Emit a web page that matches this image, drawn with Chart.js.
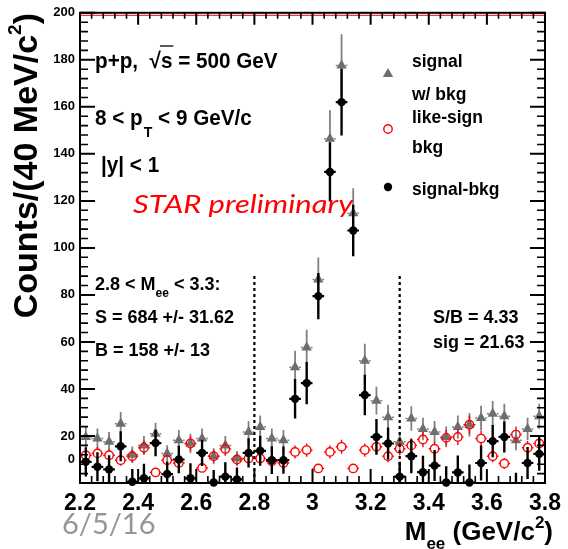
<!DOCTYPE html>
<html><head><meta charset="utf-8">
<script src="https://cdn.jsdelivr.net/npm/chart.js@4/dist/chart.umd.min.js"></script>
<style>html,body{margin:0;padding:0;background:#fff;overflow:hidden}#wrap{width:568px;height:549px;position:relative}</style>
</head><body><div id="wrap"><canvas id="c" width="568" height="549"></canvas></div>
<script>
// ---- data ----
const binCenters = [2.22,2.26,2.30,2.34,2.38,2.42,2.46,2.50,2.54,2.58,2.62,2.66,2.70,2.74,2.78,2.82,2.86,2.90,2.94,2.98,
                    3.02,3.06,3.10,3.14,3.18,3.22,3.26,3.30,3.34,3.38,3.42,3.46,3.50,3.54,3.58,3.62,3.66,3.70,3.74,3.78];
const binHalfWidth = 0.02;
const signalWithBkg = [19.6,18.9,17.5,25.2,12.0,16.0,21.0,12.6,18.2,16.8,18.9,11.4,16.0,10.4,21.7,23.8,18.9,18.2,49.2,57.6,
                       86.6,146.4,177.6,114.7,52.0,35.0,28.0,17.5,27.4,23.0,21.7,19.6,23.8,24.8,27.6,29.5,28.4,18.2,23.0,28.4];
const signalWithBkgErr = [4.4,4.3,4.2,5.0,3.5,4.0,4.6,3.5,4.3,4.1,4.3,3.4,4.0,3.2,4.7,4.9,4.3,4.3,7.0,7.6,
                          9.3,12.1,13.3,10.7,7.2,5.9,5.3,4.2,5.2,4.8,4.7,4.4,4.9,5.0,5.3,5.4,5.3,4.3,4.8,5.3];
const likeSignBkg = [11.8,12.6,11.8,9.7,11.4,15.0,4.5,9.7,8.5,16.8,6.4,11.4,14.5,10.0,10.4,10.4,9.2,8.5,13.2,14.0,
                     6.2,13.2,15.4,6.2,14.0,15.4,11.4,14.6,16.0,18.5,14.6,19.2,19.6,24.8,18.9,11.4,8.3,20.6,15.0,16.8];
const likeSignBkgErr = [2.6,2.7,2.6,2.4,2.6,2.9,1.6,2.4,2.2,3.1,1.9,2.6,2.9,2.4,2.4,2.4,2.3,2.2,2.8,2.8,
                        1.9,2.8,3.0,1.9,2.8,3.0,2.6,2.9,3.0,3.3,2.9,3.3,3.4,3.8,3.3,2.6,2.2,3.4,2.9,3.1];
const signalMinusBkg = [9.0,6.9,5.8,15.6,0.5,2.0,17.0,3.8,10.0,2.0,12.8,0.2,2.7,1.5,12.8,13.7,9.7,9.7,35.8,42.5,
                        79.5,132.3,162.0,107.4,37.4,19.6,16.8,2.7,11.4,4.6,7.4,0.2,4.5,0.2,8.5,17.8,19.6,-2.4,8.5,12.4];
const signalMinusBkgErr = [6.2,6.2,6.0,6.4,5.5,6.2,5.6,5.3,5.8,6.4,5.6,5.3,6.1,5.1,6.2,6.4,5.9,5.8,8.4,9.0,
                           9.8,12.6,14.2,11.0,8.6,7.6,6.8,6.3,7.2,7.0,6.6,6.9,7.2,7.7,7.4,6.9,6.6,6.8,6.8,7.2];
const xTickValues = [2.2,2.4,2.6,2.8,3.0,3.2,3.4,3.6,3.8];
const yTickValues = [0,20,40,60,80,100,120,140,160,180,200];
const massWindow = [2.8, 3.3];
const windowLineTop = 88;
const legendLabels = [["signal","w/ bkg"],["like-sign","bkg"],["signal-bkg"]];

// ---- styling ----
const SANS = '"Liberation Sans", Arial, Helvetica, sans-serif';
const GRAY = '#6e6e6e';
const RED = '#ff0000';

const mk = ys => binCenters.map((x, i) => ({x, y: ys[i]}));

function drawTri(ctx, x, y, r, color) {
  ctx.beginPath();
  let rad = 0;
  ctx.moveTo(x + Math.sin(rad) * r, y - Math.cos(rad) * r);
  rad += 2 * Math.PI / 3;
  ctx.lineTo(x + Math.sin(rad) * r, y - Math.cos(rad) * r);
  rad += 2 * Math.PI / 3;
  ctx.lineTo(x + Math.sin(rad) * r, y - Math.cos(rad) * r);
  ctx.closePath();
  ctx.fillStyle = color; ctx.fill();
}

const errorBars = {
  id: 'errorBars',
  beforeDatasetDraw(chart, args) {
    const ds = chart.data.datasets[args.index];
    const {ctx, chartArea: a, scales: {x: xs, y: ys}} = chart;
    ctx.save();
    ctx.beginPath(); ctx.rect(a.left, a.top, a.right - a.left, a.bottom - a.top); ctx.clip();
    ctx.strokeStyle = ds.errColor; ctx.lineWidth = ds.errWidth;
    ds.data.forEach((p, i) => {
      const e = ds.errors[i];
      const px = xs.getPixelForValue(p.x), py = ys.getPixelForValue(p.y);
      const top = ys.getPixelForValue(p.y + e), bot = ys.getPixelForValue(p.y - e);
      const g = ds.errGap;
      ctx.setLineDash([]);
      ctx.beginPath();
      ctx.moveTo(px, top); ctx.lineTo(px, py - g);
      ctx.moveTo(px, py + g); ctx.lineTo(px, bot);
      ctx.stroke();
      const xl = xs.getPixelForValue(p.x - binHalfWidth), xr = xs.getPixelForValue(p.x + binHalfWidth);
      ctx.lineWidth = ds.xErrWidth;
      if (ds.xDash) ctx.setLineDash(ds.xDash);
      ctx.beginPath();
      ctx.moveTo(xl, py); ctx.lineTo(px - g, py);
      ctx.moveTo(px + g, py); ctx.lineTo(xr, py);
      ctx.stroke();
      ctx.lineWidth = ds.errWidth;
    });
    ctx.restore();
  }
};

function txt(ctx, s, x, y, size, o = {}) {
  ctx.save();
  ctx.font = `${o.italic ? 'italic ' : ''}${o.bold === false ? '' : 'bold '}${size}px ${o.family || SANS}`;
  ctx.fillStyle = o.color || '#000';
  ctx.textBaseline = 'alphabetic'; ctx.textAlign = 'left';
  let sx = o.sx || 1;
  const w0 = ctx.measureText(s).width;
  if (o.w) sx = o.w / w0;
  ctx.translate(x, y); ctx.scale(sx, 1);
  ctx.fillText(s, 0, 0);
  ctx.restore();
  return x + w0 * sx;
}

const frame = {
  id: 'frame',
  afterDatasetsDraw(chart) {
    const {ctx, chartArea: a, scales: {x: xs, y: ys}} = chart;
    ctx.save();
    // mass window lines
    ctx.strokeStyle = '#000'; ctx.lineWidth = 2.2; ctx.setLineDash([3, 3]);
    massWindow.forEach(v => {
      const px = xs.getPixelForValue(v);
      ctx.beginPath(); ctx.moveTo(px, ys.getPixelForValue(0)); ctx.lineTo(px, ys.getPixelForValue(windowLineTop)); ctx.stroke();
    });
    ctx.setLineDash([]);
    // thin red line along the top
    ctx.strokeStyle = RED; ctx.lineWidth = 1;
    ctx.beginPath(); ctx.moveTo(a.left, a.top + 2.5); ctx.lineTo(a.right, a.top + 2.5); ctx.stroke();
    // frame
    ctx.strokeStyle = '#000'; ctx.lineWidth = 2;
    ctx.strokeRect(a.left, a.top, a.right - a.left, a.bottom - a.top);
    // x ticks
    const xmin = xs.min, xmax = xs.max;
    for (let k = 0; k <= 40; k++) {
      const px = xs.getPixelForValue(xmin + k * (xmax - xmin) / 40);
      const major = k % 5 === 0;
      ctx.lineWidth = major ? 2 : 1.6;
      ctx.beginPath();
      ctx.moveTo(px, a.bottom); ctx.lineTo(px, a.bottom - (major ? 14 : 7));
      ctx.moveTo(px, a.top); ctx.lineTo(px, a.top + (major ? 12 : 6));
      ctx.stroke();
    }
    for (let k = 0; k <= 50; k++) {
      const py = ys.getPixelForValue(ys.min + k * (ys.max - ys.min) / 50);
      const major = k % 5 === 0;
      const l = major ? 15 : 8;
      ctx.lineWidth = major ? 2 : 1.6;
      ctx.beginPath();
      ctx.moveTo(a.left, py); ctx.lineTo(a.left + l, py);
      ctx.moveTo(a.right, py); ctx.lineTo(a.right - l, py);
      ctx.stroke();
    }
    ctx.restore();
  },
  afterDraw(chart) {
    const {ctx} = chart;
    ctx.save();
    // "0" label shifted up as in the original
    ctx.font = `bold 13px ${SANS}`; ctx.fillStyle = '#000'; ctx.textAlign = 'right'; ctx.textBaseline = 'middle';
    ctx.fillText('0', 75, 459);
    // y title
    ctx.save();
    ctx.translate(37, 0); ctx.rotate(-Math.PI / 2);
    ctx.font = `bold 34px ${SANS}`;
    const p1 = 'Counts/(40 MeV/c', p3 = ')';
    const w1 = ctx.measureText(p1).width, w3 = ctx.measureText(p3).width;
    ctx.font = `bold 19px ${SANS}`;
    const w2 = ctx.measureText('2').width;
    let sx0 = -(13 + w1 + w2 + w3);
    ctx.textAlign = 'left'; ctx.textBaseline = 'alphabetic'; ctx.fillStyle = '#000';
    ctx.font = `bold 34px ${SANS}`; ctx.fillText(p1, sx0, 0);
    ctx.font = `bold 19px ${SANS}`; ctx.fillText('2', sx0 + w1, -16);
    ctx.font = `bold 34px ${SANS}`; ctx.fillText(p3, sx0 + w1 + w2, 0);
    ctx.restore();
    // x title
    ctx.textAlign = 'left'; ctx.textBaseline = 'alphabetic';
    ctx.font = `bold 26px ${SANS}`;
    const wm = ctx.measureText('M').width, wg = ctx.measureText(' (GeV/c').width, wp = ctx.measureText(')').width;
    ctx.font = `bold 17px ${SANS}`;
    const we = ctx.measureText('ee').width, w2x = ctx.measureText('2').width;
    let xx = 553 - (wm + we + wg + w2x + wp);
    ctx.font = `bold 26px ${SANS}`; ctx.fillText('M', xx, 540); xx += wm;
    ctx.font = `bold 17px ${SANS}`; ctx.fillText('ee', xx, 549); xx += we;
    ctx.font = `bold 26px ${SANS}`; ctx.fillText(' (GeV/c', xx, 540); xx += wg;
    ctx.font = `bold 17px ${SANS}`; ctx.fillText('2', xx, 528); xx += w2x;
    ctx.font = `bold 26px ${SANS}`; ctx.fillText(')', xx, 540);
    // date footer
    txt(ctx, '6/5/16', 62, 534, 29, {bold: false, family: 'Lato, "Open Sans", sans-serif', color: '#969696'});

    // annotations
    let x = txt(ctx, 'p+p,  ', 95, 68, 22, {sx: 0.94});
    const xr = txt(ctx, '\u221A', x, 68, 22, {sx: 0.94});
    const xs2 = txt(ctx, 's', xr, 68, 22, {sx: 0.94});
    ctx.strokeStyle = '#000'; ctx.lineWidth = 1.3;
    ctx.beginPath(); ctx.moveTo(xr - 1, 46); ctx.lineTo(xs2 + 1, 46); ctx.stroke();
    txt(ctx, ' = 500 GeV', xs2, 68, 22, {sx: 0.94});

    x = txt(ctx, '8 < p', 95, 125, 22, {sx: 0.94});
    x = txt(ctx, 'T', x + 1, 137, 15, {sx: 0.94});
    txt(ctx, ' < 9 GeV/c', x, 125, 22, {sx: 0.94});

    txt(ctx, '|y| < 1', 101, 172, 22, {sx: 0.94});

    txt(ctx, 'STAR preliminary', 133, 213, 25, {bold: false, italic: true, family: 'Lato, "Open Sans", sans-serif', color: RED, w: 220});

    x = txt(ctx, '2.8 < M', 95, 290, 18);
    x = txt(ctx, 'ee', x, 297, 12);
    txt(ctx, ' < 3.3:', x, 290, 18);
    txt(ctx, 'S = 684 +/- 31.62', 95, 323, 18);
    txt(ctx, 'B = 158 +/- 13', 95, 356, 18);

    txt(ctx, 'S/B = 4.33', 433, 323, 18);
    txt(ctx, 'sig = 21.63', 433, 348, 18);

    // legend
    drawTri(ctx, 388, 74, 6, GRAY);
    ctx.beginPath(); ctx.arc(388, 129, 4.2, 0, 2 * Math.PI); ctx.strokeStyle = RED; ctx.lineWidth = 1.4; ctx.stroke();
    ctx.beginPath(); ctx.arc(388, 187, 4.2, 0, 2 * Math.PI); ctx.fillStyle = '#000'; ctx.fill();
    txt(ctx, legendLabels[0][0], 412, 67, 17.5);
    txt(ctx, legendLabels[0][1], 412, 100, 17.5);
    txt(ctx, legendLabels[1][0], 412, 123, 17.5);
    txt(ctx, legendLabels[1][1], 412, 153, 17.5);
    txt(ctx, legendLabels[2][0], 412, 195, 17.5);
    ctx.restore();
  }
};

new Chart(document.getElementById('c'), {
  type: 'scatter',
  data: {
    datasets: [
      {label: 'signal-bkg', data: mk(signalMinusBkg), order: 0, clip: false,
       pointStyle: 'circle', pointRadius: c => (c.raw && c.raw.y < 0 ? 0 : 4.2), pointHoverRadius: 0,
       backgroundColor: '#000', borderColor: '#000', borderWidth: 0,
       errors: signalMinusBkgErr, errColor: '#000', errWidth: 2.4, xErrWidth: 2.2, errGap: 0},
      {label: 'like-sign bkg', data: mk(likeSignBkg), order: 1, clip: false,
       pointStyle: 'circle', pointRadius: 4.2, pointHoverRadius: 0,
       backgroundColor: 'rgba(0,0,0,0)', borderColor: RED, borderWidth: 1.4,
       errors: likeSignBkgErr, errColor: RED, errWidth: 1.4, xErrWidth: 1.4, errGap: 4.2},
      {label: 'signal w/ bkg', data: mk(signalWithBkg), order: 2, clip: false,
       pointStyle: 'triangle', pointRadius: 6, pointHoverRadius: 0,
       backgroundColor: GRAY, borderColor: GRAY, borderWidth: 0,
       errors: signalWithBkgErr, errColor: '#808080', errWidth: 1.8, xErrWidth: 1.5, errGap: 0, xDash: [2, 2]}
    ]
  },
  options: {
    responsive: false, animation: false, devicePixelRatio: 1,
    layout: {padding: {left: 0, right: 15, top: 10, bottom: 0}},
    plugins: {legend: {display: false}, tooltip: {enabled: false}},
    events: [],
    scales: {
      x: {
        type: 'linear', min: 2.2, max: 3.8,
        afterBuildTicks: s => { s.ticks = xTickValues.map(v => ({value: v})); },
        afterFit: s => { s.height = 66; },
        grid: {display: false, drawTicks: false}, border: {display: false},
        ticks: {autoSkip: false, maxRotation: 0, padding: 7, color: '#000',
                font: {family: SANS, size: 23, weight: 'bold'},
                callback: v => String(Number(v.toFixed(1)))}
      },
      y: {
        type: 'linear', min: 0, max: 200,
        afterBuildTicks: s => { s.ticks = yTickValues.map(v => ({value: v})); },
        afterFit: s => { s.width = 80; },
        grid: {display: false, drawTicks: false}, border: {display: false},
        ticks: {autoSkip: false, padding: 5, color: '#000',
                font: {family: SANS, size: 13, weight: 'bold'},
                callback: v => (v === 0 ? '' : String(v))}
      }
    }
  },
  plugins: [errorBars, frame]
});
</script></body></html>
